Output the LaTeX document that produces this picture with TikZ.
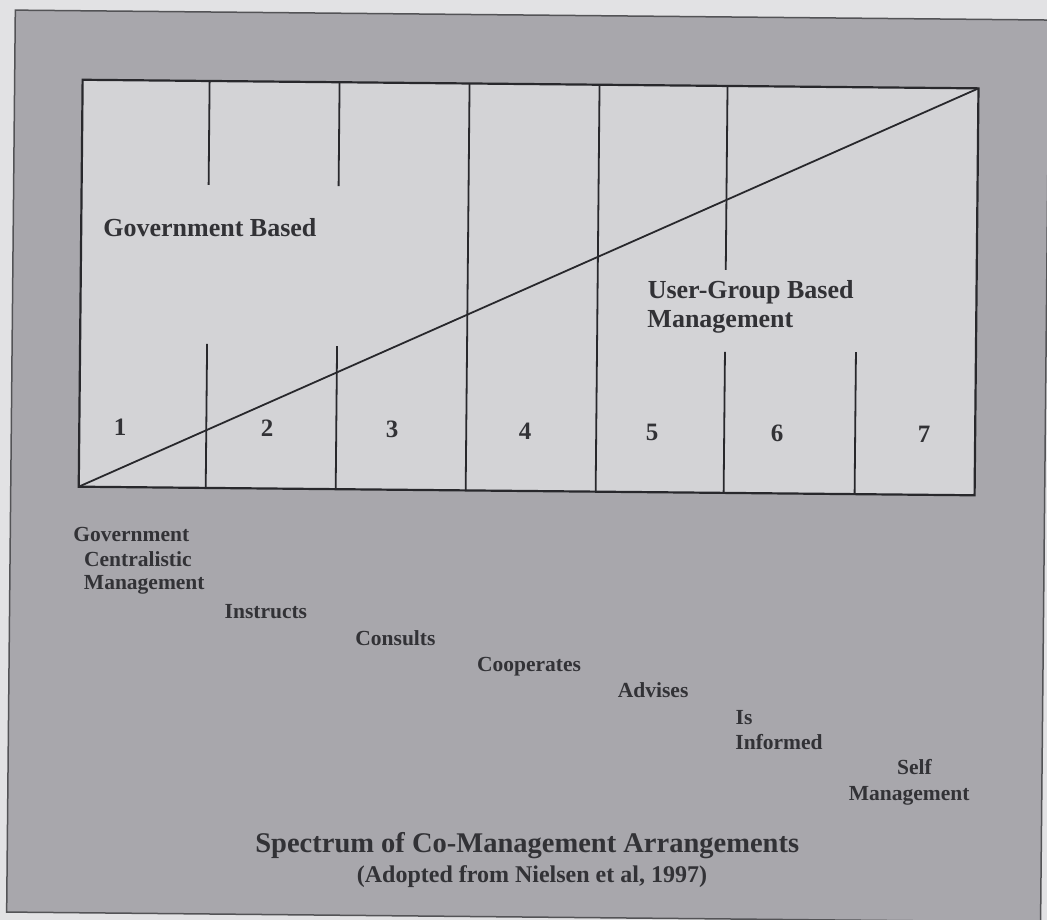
\documentclass[tikz,border=0pt]{standalone}
\usepackage{fontspec}
\setmainfont{Liberation Serif}
\definecolor{pagebg}{RGB}{226,226,228}
\definecolor{panelbg}{RGB}{168,167,172}
\definecolor{innerbg}{RGB}{211,211,214}
\definecolor{ink}{RGB}{50,50,54}
\definecolor{rule}{RGB}{40,40,44}
\begin{document}
\begin{tikzpicture}[x=1pt,y=-1pt,
  lbl/.style={font=\fontsize{21.5}{24}\selectfont\bfseries, text=ink, inner sep=0pt, anchor=base west},
  big/.style={font=\fontsize{26}{29}\selectfont\bfseries, text=ink, inner sep=0pt, anchor=base west},
  num/.style={font=\fontsize{25}{28}\selectfont\bfseries, text=ink, inner sep=0pt, anchor=base},
  divider/.style={draw=rule, line width=1.8pt},
  frame/.style={draw=rule, line width=2.2pt}]
\useasboundingbox (0,0) rectangle (1047,920);
\fill[pagebg] (0,0) rectangle (1047,920);
\clip (0,0) rectangle (1047,920);
\begin{scope}[rotate around={-0.55:(523,460)}]
  % panel
  \filldraw[fill=panelbg, draw=rule!80, line width=1.5pt] (11,15) rectangle (1045,917);
  % inner box corners
  \coordinate (tl) at (79,84);
  \coordinate (tr) at (975,84);
  \coordinate (bl) at (79,491);
  \coordinate (br) at (975,491);
  \fill[innerbg] (tl) rectangle (br);
  % dividers
  \coordinate (d1t) at (206,84);  \coordinate (d1a) at (206,188); \coordinate (d1b) at (206,347); \coordinate (d1e) at (206,491);
  \coordinate (d2t) at (336,84);  \coordinate (d2a) at (336,188); \coordinate (d2b) at (336,348); \coordinate (d2e) at (336,491);
  \coordinate (d3t) at (466,84);  \coordinate (d3e) at (466,491);
  \coordinate (d4t) at (596,84);  \coordinate (d4e) at (596,491);
  \coordinate (d5t) at (724,84);  \coordinate (d5a) at (724,268); \coordinate (d5b) at (724,350); \coordinate (d5e) at (724,491);
  \coordinate (d6b) at (855,349); \coordinate (d6e) at (855,491);
  \draw[divider] (d1t) -- (d1a);
  \draw[divider] (d1b) -- (d1e);
  \draw[divider] (d2t) -- (d2a);
  \draw[divider] (d2b) -- (d2e);
  \draw[divider] (d3t) -- (d3e);
  \draw[divider] (d4t) -- (d4e);
  \draw[divider] (d5t) -- (d5a);
  \draw[divider] (d5b) -- (d5e);
  \draw[divider] (d6b) -- (d6e);
  \draw[divider] (bl) -- (tr);
  \draw[frame] (tl) rectangle (br);
  % labels in box
  \node[big] (gov) at (101,241) {Government Based};
  \node[big] (ug1) at (646,297) {User-Group Based};
  \node[big] (ug2) at (646,326) {Management};
  \node[num] (n1) at (120,439) {1};
  \node[num] (n2) at (267,439) {2};
  \node[num] (n3) at (392,439) {3};
  \node[num] (n4) at (525,439) {4};
  \node[num] (n5) at (652,439) {5};
  \node[num] (n6) at (777,439) {6};
  \node[num] (n7) at (924,439) {7};
  % spectrum labels
  \node[lbl] (s1a) at (74,546) {Government};
  \node[lbl] (s1b) at (85,571) {Centralistic};
  \node[lbl] (s1c) at (85,594) {Management};
  \node[lbl] (s2) at (226,621) {Instructs};
  \node[lbl] (s3) at (357,647) {Consults};
  \node[lbl] (s4) at (479,672) {Cooperates};
  \node[lbl] (s5) at (620,697) {Advises};
  \node[lbl] (s6a) at (738,722) {Is};
  \node[lbl] (s6b) at (738,747) {Informed};
  \node[lbl] (s7a) at (900,771) {Self};
  \node[lbl] (s7b) at (852,797) {Management};
  % caption
  \node[font=\fontsize{28.5}{32}\selectfont\bfseries, text=ink, inner sep=0pt, anchor=base] (cap1) at (531,852) {Spectrum of Co-Management Arrangements};
  \node[font=\fontsize{24}{27}\selectfont\bfseries, text=ink, inner sep=0pt, anchor=base] (cap2) at (536,882) {(Adopted from Nielsen et al, 1997)};
\end{scope}
\end{tikzpicture}
\end{document}
